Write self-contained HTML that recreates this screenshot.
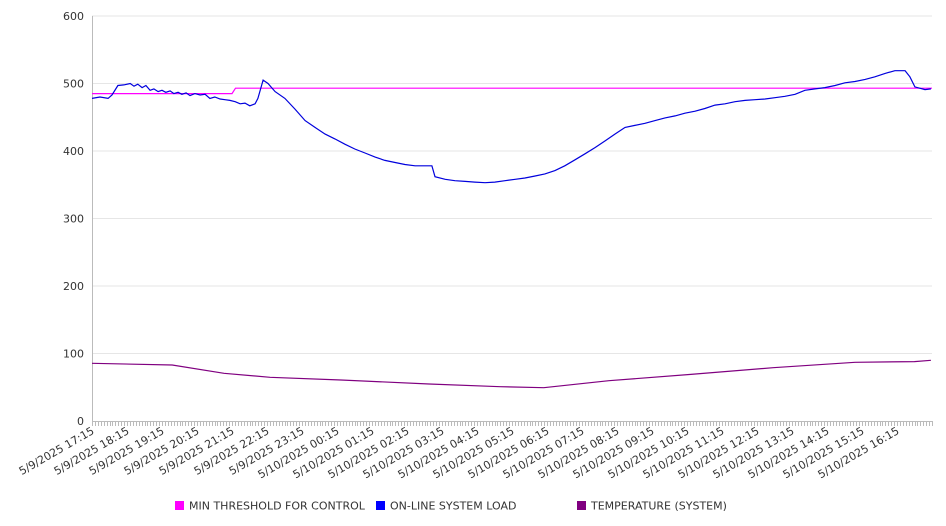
<!DOCTYPE html>
<html><head><meta charset="utf-8"><style>
body{margin:0;background:#fff;}
svg{display:block;font-family:"DejaVu Sans","Liberation Sans",sans-serif;}
</style></head><body>
<svg id="chart" width="946" height="526" viewBox="0 0 946 526"></svg>
<script>
const yTicks=[0,100,200,300,400,500,600];
const xTickLabels=["5/9/2025 17:15","5/9/2025 18:15","5/9/2025 19:15","5/9/2025 20:15","5/9/2025 21:15","5/9/2025 22:15","5/9/2025 23:15","5/10/2025 00:15","5/10/2025 01:15","5/10/2025 02:15","5/10/2025 03:15","5/10/2025 04:15","5/10/2025 05:15","5/10/2025 06:15","5/10/2025 07:15","5/10/2025 08:15","5/10/2025 09:15","5/10/2025 10:15","5/10/2025 11:15","5/10/2025 12:15","5/10/2025 13:15","5/10/2025 14:15","5/10/2025 15:15","5/10/2025 16:15"];
// hours since 5/9/2025 17:15
const loadHours=[0,0.23,0.46,0.57,0.74,0.91,1.09,1.2,1.31,1.43,1.54,1.66,1.77,1.89,2,2.11,2.23,2.34,2.46,2.57,2.69,2.8,2.94,3.09,3.23,3.37,3.51,3.66,3.8,3.94,4.09,4.23,4.37,4.51,4.66,4.74,4.89,5.03,5.23,5.51,5.8,6.09,6.37,6.66,6.94,7.23,7.51,7.8,8.09,8.37,8.66,8.94,9.23,9.51,9.71,9.8,10.09,10.37,10.66,10.94,11.23,11.51,11.8,12.09,12.37,12.66,12.94,13.23,13.51,13.8,14.09,14.37,14.66,14.94,15.23,15.51,15.8,16.09,16.37,16.66,16.94,17.23,17.51,17.8,18.09,18.37,18.66,18.94,19.23,19.51,19.8,20.09,20.37,20.66,20.94,21.23,21.51,21.8,22.09,22.37,22.66,22.94,23.23,23.37,23.51,23.8,23.97];
const loadValues=[478,480,478,483,497,498,500,496,499,494,497,490,492,488,490,487,489,485,487,484,486,482,485,483,484,478,480,477,476,475,473,470,471,467,470,478,505,500,488,478,462,445,435,425,418,410,403,397,391,386,383,380,378,378,378,362,358,356,355,354,353,354,356,358,360,363,366,371,378,387,396,405,415,425,435,438,441,445,449,452,456,459,463,468,470,473,475,476,477,479,481,484,490,492,494,497,501,503,506,510,515,519,519,510,495,491,492];
const thresholdHours=[0,4.0,4.1,24];
const thresholdValues=[485,485,493,493];
const tempHours=[0,2.29,3.77,5.09,7.11,9.63,11.66,12.91,14.77,17.11,19.46,21.8,23.5,23.97];
const tempValues=[85.5,83,70.6,64.7,60.7,54.8,50.8,49.4,59.7,69,79,87,88,90];

const svg=document.getElementById('chart');
const NS='http://www.w3.org/2000/svg';
const X0=92,X1=932,Y0=421,Y1=16,HMAX=24,VMAX=600;
const xs=h=>X0+(X1-X0)*h/HMAX;
const ys=v=>Y0-(Y0-Y1)*v/VMAX;
function mk(t,a,parent){const e=document.createElementNS(NS,t);for(const k in a)e.setAttribute(k,a[k]);(parent||svg).appendChild(e);return e;}

const grid=mk('g',{});


yTicks.forEach(v=>{
  if(v>0){const l=mk('line',{x1:X0,x2:X1,y1:ys(v),y2:ys(v),stroke:'#e6e6e6','stroke-width':1},grid);
  
  }
  const t=mk('text',{x:X0-8,y:ys(v)+4,'text-anchor':'end','font-size':11,fill:'#333'});
  t.textContent=v;
  
  
});
const yax=mk('line',{x1:X0+0.5,x2:X0+0.5,y1:Y1,y2:Y0,stroke:'#bbb'});


const xax=mk('line',{x1:X0,x2:X1,y1:Y0+0.5,y2:Y0+0.5,stroke:'#bbb'});


const mt=mk('g',{stroke:'#bbb'});


for(let i=0;i<=HMAX*12;i++){const x=Math.round(xs(i/12))+0.5;mk('line',{x1:x,x2:x,y1:Y0,y2:Y0+5},mt);}
xTickLabels.forEach((lab,i)=>{
  const x=xs(i)+3,y=Y0+12;
  const t=mk('text',{x:x,y:y,'text-anchor':'end','font-size':11,fill:'#333',transform:`rotate(-30 ${x} ${y})`});
  t.textContent=lab;
  
  
});
function line(hs,vs,color,name){
  const d=hs.map((h,i)=>(i?'L':'M')+xs(h).toFixed(1)+','+ys(vs[i]).toFixed(1)).join('');
  const p=mk('path',{d:d,fill:'none',stroke:color,'stroke-width':1.2});
  
  
}
line(tempHours,tempValues,'#800080','temperature-line');
line(thresholdHours,thresholdValues,'#ff00ff','min-threshold-line');
line(loadHours,loadValues,'#0000dd','online-system-load-line');

const legend=[['MIN THRESHOLD FOR CONTROL','#ff00ff',175],['ON-LINE SYSTEM LOAD','#0000ff',376],['TEMPERATURE (SYSTEM)','#800080',577]];
legend.forEach(([lab,c,x])=>{
  const g=mk('g',{});
  
  
  mk('rect',{x:x,y:501,width:9,height:9,fill:c},g);
  const t=mk('text',{x:x+14,y:509.5,'font-size':11,fill:'#333'},g);
  t.textContent=lab;
});
</script>
</body></html>
